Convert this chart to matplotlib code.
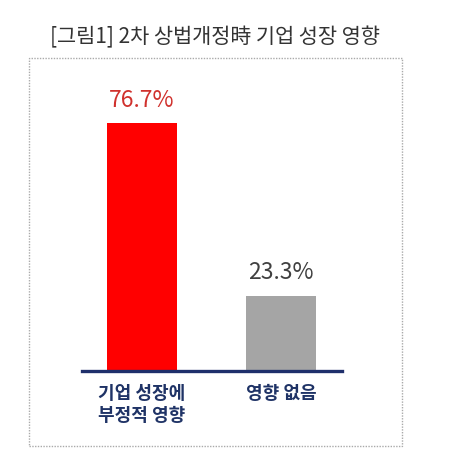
import matplotlib
matplotlib.use("Agg")
import matplotlib.pyplot as plt
from matplotlib.patches import Rectangle

plt.rcParams['font.family'] = ['Noto Sans CJK KR', 'DejaVu Sans']

# data
categories = ['기업 성장에\n부정적 영향', '영향 없음']
values = [76.7, 23.3]
labels = ['76.7%', '23.3%']
bar_colors = ['#FF0000', '#A5A5A5']
label_colors = ['#D0312D', '#404040']
title = '[그림1] 2차 상법개정時 기업 성장 영향'

W, H = 450, 469
fig = plt.figure(figsize=(W / 100, H / 100), dpi=100)

# dotted frame around the chart
fig.patches.append(Rectangle((29 / W, 1 - 446 / H), 373 / W, 388 / H,
                             transform=fig.transFigure, fill=False,
                             edgecolor='#AAAAAA', linestyle=(0, (1, 1)), linewidth=1))

fig.text(215 / W, 1 - 37 / H, title, ha='center', va='center',
         fontsize=15, color='#333333')

ax = fig.add_axes([82 / W, 1 - 371 / H, 260 / W, 281 / H])
x = list(range(len(values)))
ax.bar(x, values, width=0.5, color=bar_colors)
ax.set_xlim(-0.428, 1.435)
ax.set_ylim(0, 87)
ax.axhline(0, color='#1F2F6B', linewidth=2.4, clip_on=False)

for xi, v, lab, c in zip(x, values, labels, label_colors):
    ax.text(xi, v + 3.5, lab, ha='center', va='bottom', fontsize=16.5, color=c)

for xi, cat in zip(x, categories):
    ax.text(xi, -4, cat, ha='center', va='top', fontsize=13,
            fontweight='bold', color='#1F3366', linespacing=1.2)

ax.axis('off')

fig.savefig('out.png', dpi=100)
